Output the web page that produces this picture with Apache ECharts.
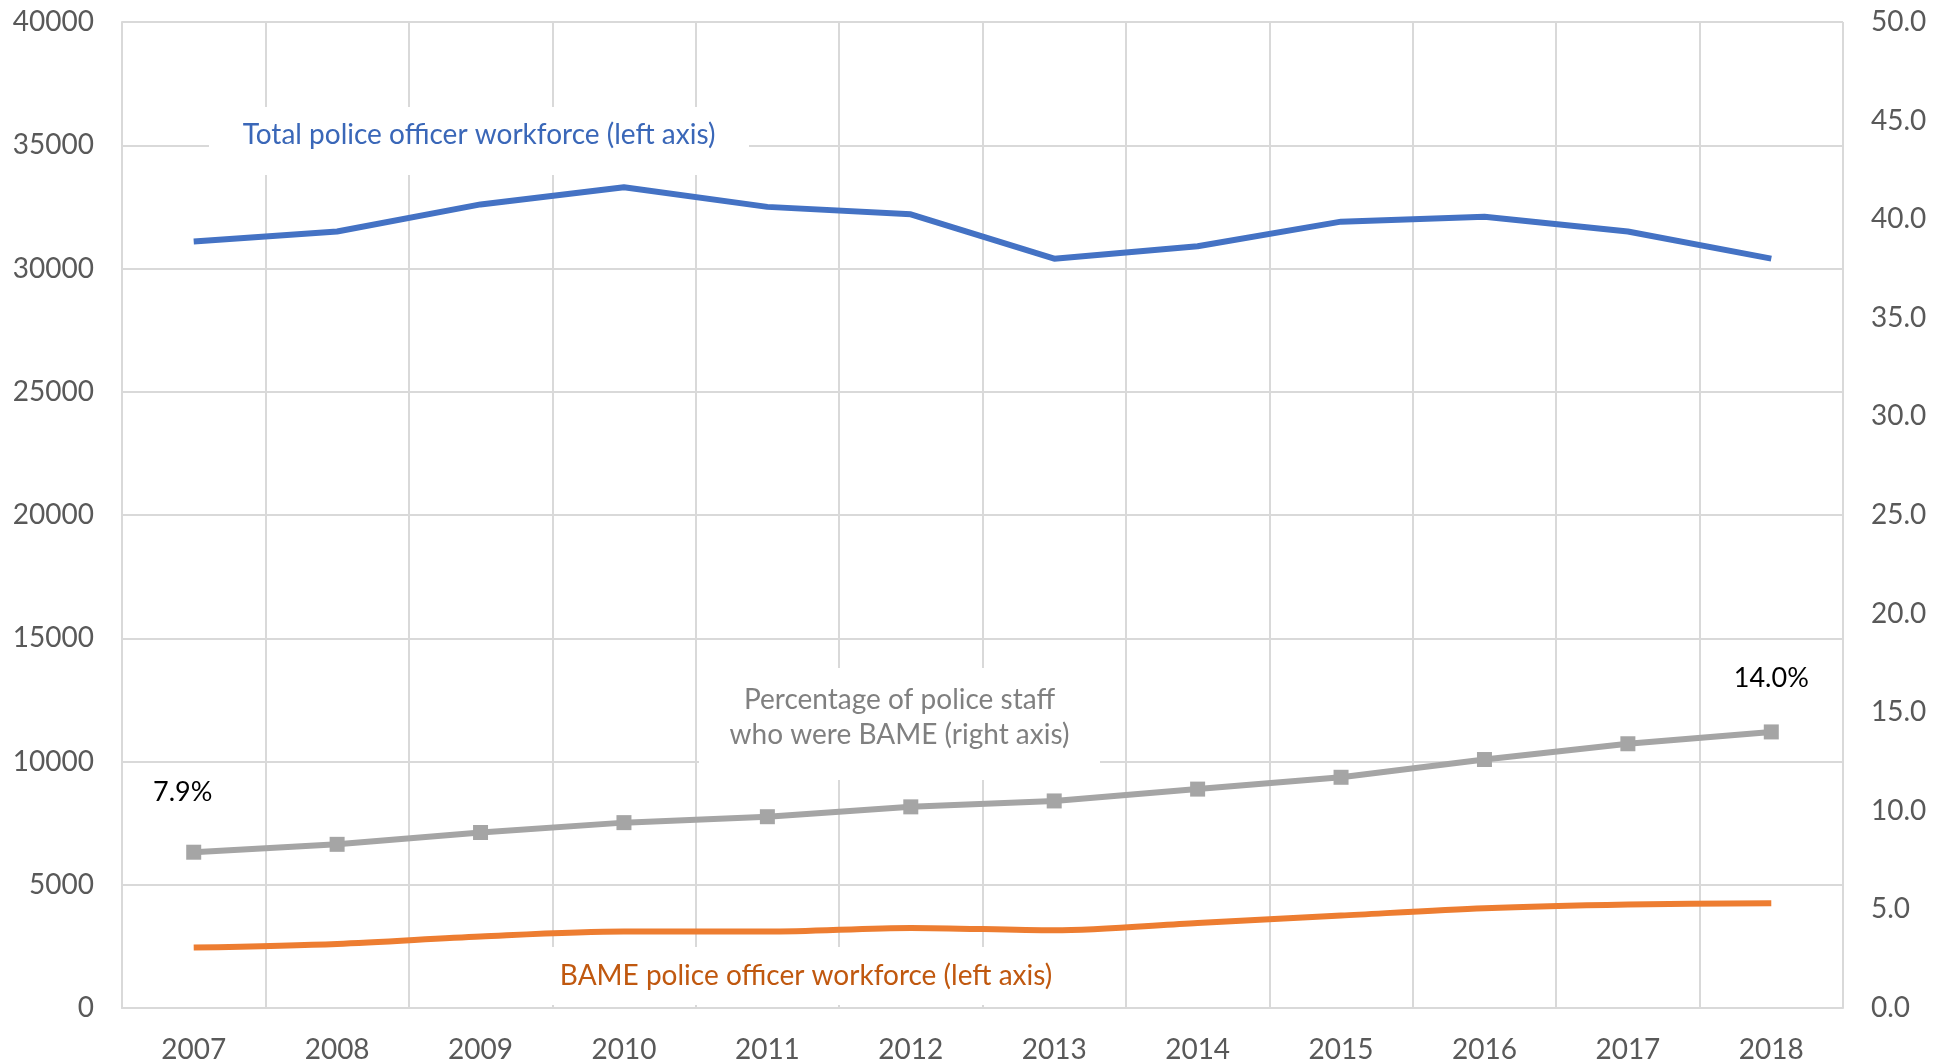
<!DOCTYPE html>
<html>
<head>
<meta charset="utf-8">
<script src="https://cdn.jsdelivr.net/npm/echarts@6/dist/echarts.min.js"></script>
<style>
  html, body { margin: 0; padding: 0; background: #fff; }
  #chart { width: 1939px; height: 1064px; }
</style>
</head>
<body>
<div id="chart"></div>
<script>
var years = ['2007', '2008', '2009', '2010', '2011', '2012', '2013', '2014', '2015', '2016', '2017', '2018'];
// left axis
var totalOfficers = [31100, 31500, 32600, 33300, 32500, 32200, 30400, 30900, 31900, 32100, 31500, 30400];
var bameOfficers = [2450, 2600, 2900, 3100, 3100, 3250, 3150, 3450, 3750, 4050, 4200, 4250];
// right axis, %
var bamePct = [7.9, 8.3, 8.9, 9.4, 9.7, 10.2, 10.5, 11.1, 11.7, 12.6, 13.4, 14.0];

var font = 'Lato, "Noto Sans", sans-serif';
var gridCol = '#d9d9d9';

var myChart = echarts.init(document.getElementById('chart'));

// only first and last point get a % label
var pctData = bamePct.map(function (v, i) {
    if (i === 0) {
        return { value: v, label: { show: true, offset: [-11, -34] } };
    }
    if (i === bamePct.length - 1) {
        return { value: v, label: { show: true, offset: [0, -28] } };
    }
    return v;
});

// white box behind a note, covers the grid lines
function note(x, y, w, h, dy, text, color) {
    return [
        {
            type: 'rect',
            z: 100,
            shape: { x: x, y: y, width: w, height: h },
            style: { fill: '#ffffff' }
        },
        {
            type: 'text',
            z: 101,
            x: x + w / 2,
            y: y + h / 2 + dy,
            style: {
                text: text,
                fill: color,
                font: '28px ' + font,
                align: 'center',
                verticalAlign: 'middle',
                lineHeight: 35
            }
        }
    ];
}

var axisText = { color: '#595959', fontSize: 28, fontFamily: font, margin: 28 };

var option = {
    animation: false,
    backgroundColor: '#fff',
    grid: { left: 122, right: 96, top: 22, bottom: 56 },
    xAxis: {
        type: 'category',
        data: years,
        boundaryGap: true,
        axisLine: { show: true, lineStyle: { color: gridCol, width: 2 } },
        axisTick: { show: false },
        axisLabel: axisText,
        splitLine: { show: true, lineStyle: { color: gridCol, width: 2 } }
    },
    yAxis: [
        {
            type: 'value',
            min: 0,
            max: 40000,
            interval: 5000,
            axisLine: { show: true, lineStyle: { color: gridCol, width: 2 } },
            axisTick: { show: false },
            axisLabel: Object.assign({}, axisText, {
                formatter: function (v) { return String(v); }
            }),
            splitLine: { show: true, lineStyle: { color: gridCol, width: 2 } }
        },
        {
            type: 'value',
            min: 0,
            max: 50,
            interval: 5,
            position: 'right',
            axisLine: { show: false },
            axisTick: { show: false },
            axisLabel: Object.assign({}, axisText, {
                formatter: function (v) { return v.toFixed(1); }
            }),
            splitLine: { show: false }
        }
    ],
    series: [
        {
            name: 'Total police officer workforce',
            type: 'line',
            yAxisIndex: 0,
            data: totalOfficers,
            symbol: 'none',
            lineStyle: { color: '#4472c4', width: 6 },
            z: 60
        },
        {
            name: 'BAME police officer workforce',
            type: 'line',
            yAxisIndex: 0,
            data: bameOfficers,
            smooth: 0.3,
            symbol: 'none',
            lineStyle: { color: '#ed7d31', width: 6 },
            z: 60
        },
        {
            name: 'Percentage of police staff who were BAME',
            type: 'line',
            yAxisIndex: 1,
            data: pctData,
            symbol: 'rect',
            symbolSize: 15,
            itemStyle: { color: '#a5a5a5' },
            lineStyle: { color: '#a5a5a5', width: 6 },
            label: {
                show: false,
                position: 'top',
                color: '#000',
                fontSize: 27,
                fontFamily: font,
                formatter: function (p) { return p.value.toFixed(1) + '%'; }
            },
            z: 60
        }
    ],
    graphic: [].concat(
        note(209, 107, 540, 68, -6, 'Total police officer workforce (left axis)', '#3a67b8'),
        note(699, 668, 401, 112, -7, 'Percentage of police staff\nwho were BAME (right axis)', '#808080'),
        note(540, 947, 532, 58, 0, 'BAME police officer workforce (left axis)', '#c0580f')
    )
};

myChart.setOption(option);
window.addEventListener('resize', function () {
    myChart.resize();
});
</script>
</body>
</html>
